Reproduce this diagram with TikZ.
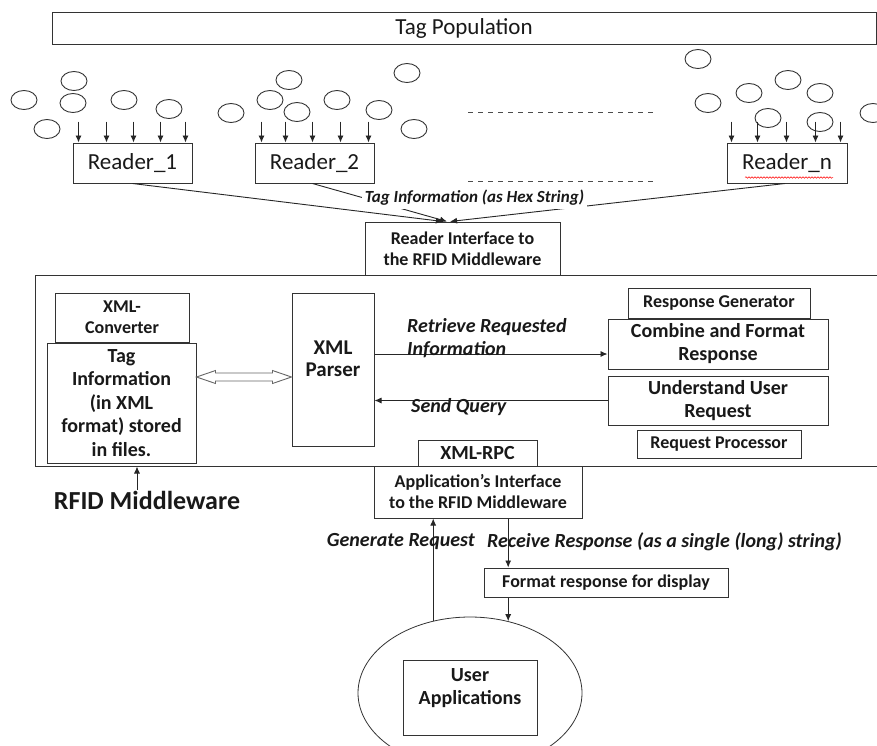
\documentclass[tikz,border=0pt]{standalone}
\usepackage{fontspec}
\setmainfont{Carlito}
\usetikzlibrary{shapes.geometric,arrows.meta,calc,decorations.pathmorphing}
\begin{document}
\begin{tikzpicture}[x=1pt,y=-1pt,
  box/.style={draw=black!80, line width=1pt, inner sep=0pt, align=center, text=black!90},
  bt/.style={font=\fontsize{18}{21}\selectfont\bfseries, text=black!90, align=center},
  bb/.style={font=\fontsize{20}{23}\selectfont\bfseries, text=black!90, align=center},
  st/.style={font=\fontsize{18}{21}\selectfont\bfseries},
  rt/.style={font=\fontsize{23}{26}\selectfont},
  lab/.style={font=\fontsize{20}{23}\selectfont\bfseries\itshape, text=black!90, inner sep=1pt},
  tip/.style={line width=0.9pt, draw=black!85, -{Latex[length=7pt,width=6pt]}},
  tagc/.style={draw=black!80, line width=0.9pt},
  dotline/.style={draw=black!70, line width=0.9pt, dash pattern=on 5pt off 5pt},
]
\clip (0,0) rectangle (877,745);
\fill[white] (0,0) rectangle (877,745);

% Tag population
\node[box, rt, minimum width=824pt, minimum height=32pt] (tagpop) at (464,28) {Tag Population};

% tags
\foreach \cx/\cy in {74/81, 24/100, 73/103, 124/100, 169/109, 47/129, 231/113, 289/80, 270/100, 337/100, 297/112, 379/110, 407/73, 414/129, 698/59, 788/80, 749/93, 820/93, 708/103, 768/118, 820/122, 873/113}
  \draw[tagc] (\cx,\cy) ellipse [x radius=13pt, y radius=9.5pt];

% readers
\node[box, rt, minimum width=119pt, minimum height=40pt] (r1) at (132.5,163) {Reader\_1};
\node[box, rt, minimum width=119pt, minimum height=40pt] (r2) at (314.5,163) {Reader\_2};
\node[box, rt, minimum width=120pt, minimum height=40pt] (rn) at (787,163) {Reader\_n};
\draw[red, line width=0.5pt, decorate, decoration={snake, amplitude=0.8pt, segment length=3pt}]
  ($(rn.south)+(-42,-6)$) -- ($(rn.south)+(46,-6)$);

\foreach \d in {6,34,61,88,113} \draw[tip] ($(r1.north west)+(\d,-21)$) -- ($(r1.north west)+(\d,0)$);
\foreach \d in {7,31,58,86,114} \draw[tip] ($(r2.north west)+(\d,-21)$) -- ($(r2.north west)+(\d,0)$);
\foreach \d in {5,31,60,89,114} \draw[tip] ($(rn.north west)+(\d,-21)$) -- ($(rn.north west)+(\d,0)$);

% dashed separators
\coordinate (da1) at (468,112); \coordinate (da2) at (657,112);
\coordinate (db1) at (468,181); \coordinate (db2) at (657,181);
\draw[dotline] (da1) -- (da2);
\draw[dotline] (db1) -- (db2);

% middleware container
\node[box, minimum width=845pt, minimum height=191pt] (mw) at (457.5,370.5) {};

% reader interface
\node[box, bt, minimum width=195pt, minimum height=53pt] (rif) at (462.5,248.5) {Reader Interface to\\the RFID Middleware};

\draw[tip] (r1.south) -- ($(rif.north)+(-19.5,0)$);
\draw[tip] ($(r2.south)+(-2,0)$) -- ($(rif.north)+(-15.5,0)$);
\draw[tip] ($(rn.south)+(-2,0)$) -- ($(rif.north)+(-12.5,0)$);
\node[lab, font=\fontsize{17}{20}\selectfont\bfseries\itshape, fill=white, inner sep=3pt] (hex) at (474.5,198) {Tag Information (as Hex String)};

% inside middleware
\node[box, bt, minimum width=134pt, minimum height=49pt] (conv) at (122,317.5) {XML-\\Converter};
\node[box, bb, font=\fontsize{20}{23.5}\selectfont\bfseries, minimum width=149pt, minimum height=120pt] (tinfo) at (121.5,403) {Tag\\Information\\(in XML\\format) stored\\in files.};
\node[box, minimum width=82pt, minimum height=153pt] (parser) at (333,369.5) {};
\node[bb, font=\fontsize{21}{22}\selectfont\bfseries] (ptxt) at (333,359) {XML\\Parser};

\coordinate (dy) at (0,377);
\path (tinfo.east |- dy) coordinate (dl) (parser.west |- dy) coordinate (dr);
\draw[black!60, line width=0.9pt, fill=white] (dl) -- ($(dl)+(19,-6.5)$) -- ($(dl)+(19,-4)$) -- ($(dr)+(-19,-4)$) -- ($(dr)+(-19,-6.5)$) -- (dr) -- ($(dr)+(-19,6.5)$) -- ($(dr)+(-19,4)$) -- ($(dl)+(19,4)$) -- ($(dl)+(19,6.5)$) -- cycle;

\node[box, st, minimum width=182pt, minimum height=30pt] (rg) at (719,303) {Response Generator};
\node[box, bb, minimum width=220pt, minimum height=50pt] (comb) at (718,344) {Combine and Format\\Response};
\node[box, bb, minimum width=220pt, minimum height=49pt] (und) at (718,400.5) {Understand User\\Request};
\node[box, st, minimum width=164pt, minimum height=28pt] (rp) at (719,444) {Request Processor};

\coordinate (ry) at (0,354);
\draw[tip] (parser.east |- ry) -- (comb.west |- ry);
\draw[tip] (und.west) -- (parser.east |- und.west);
\node[lab, align=left, anchor=west] (retr) at (406,338) {Retrieve Requested\\Information};
\node[lab, anchor=west] (sq) at (410,407) {Send Query};

\node[box, bb, minimum width=119pt, minimum height=26pt] (rpc) at (477.5,453) {XML-RPC};
\node[box, bt, minimum width=208pt, minimum height=52pt] (aif) at (478,492) {Application’s Interface\\to the RFID Middleware};

% RFID middleware label
\node[font=\fontsize{26}{30}\selectfont\bfseries, text=black!90, inner sep=1pt] (rfid) at (147,500) {RFID Middleware};
\coordinate (ax) at (137,0);
\draw[tip] (rfid.north -| ax) -- (mw.south -| ax);

% bottom part
\node[box, st, minimum width=244pt, minimum height=29pt] (fmt) at (606,582.5) {Format response for display};
\node[draw=black!80, ellipse, line width=0.8pt, minimum width=224pt, minimum height=152pt, inner sep=0pt] (ell) at (470,693) {};
\node[box, minimum width=134pt, minimum height=75pt] (ua) at (470,697.5) {};
\node[bb] (uatxt) at (470,688.5) {User\\Applications};

\draw[tip] (aif.south -| ell.62.07) -- (fmt.north -| ell.62.07);
\draw[tip] (fmt.south -| ell.62.07) -- (ell.62.07);
\draw[tip] (ell.117.93) -- (aif.south -| ell.117.93);

\node[lab, anchor=east] (gen) at (476,542) {Generate Request};
\node[lab, anchor=west] (recv) at (486,542) {Receive Response (as a single (long) string)};
\end{tikzpicture}
\end{document}
